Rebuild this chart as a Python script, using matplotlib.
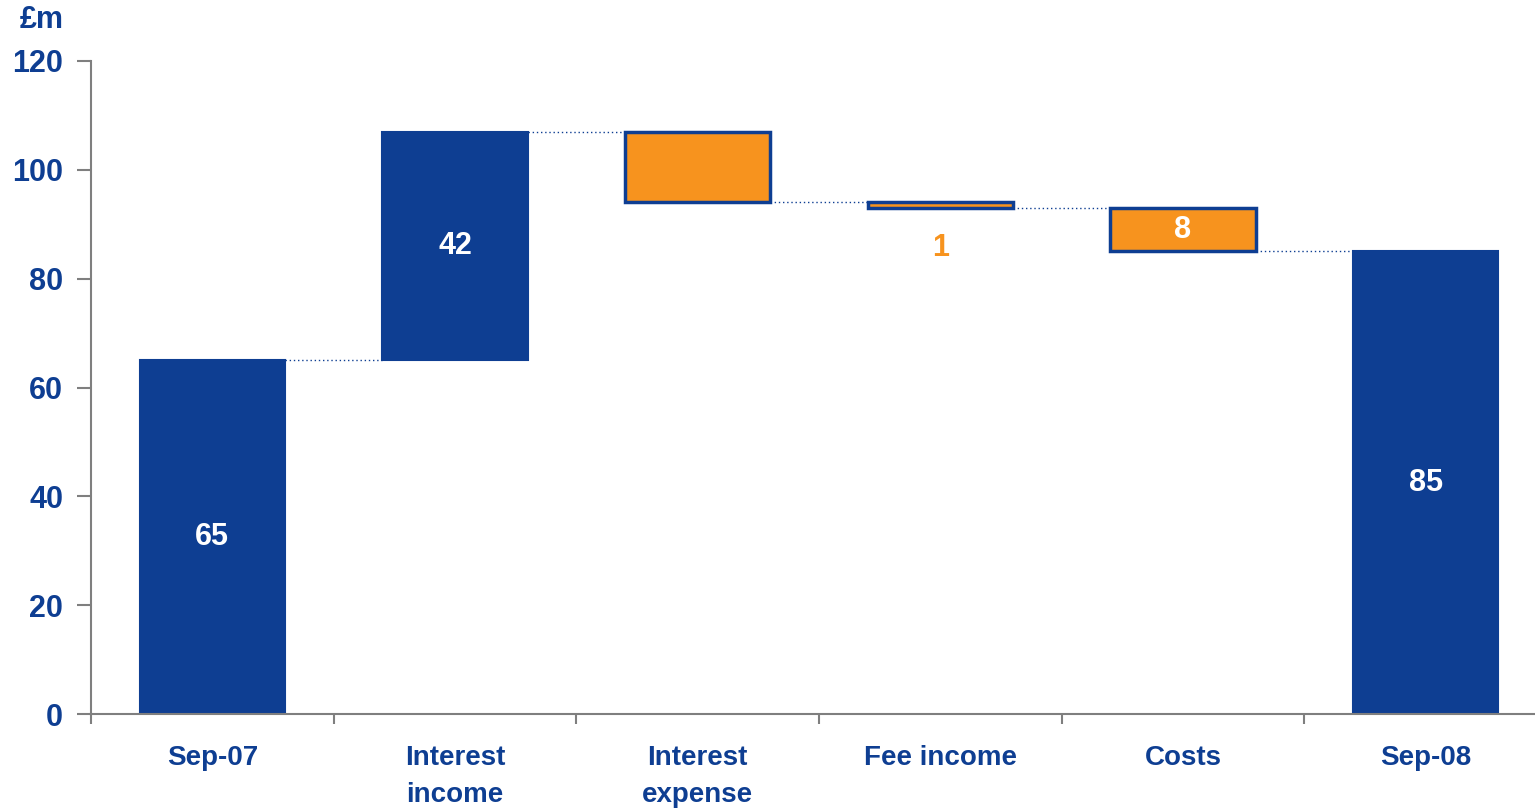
import numpy as np
import matplotlib.pyplot as plt

# waterfall: opening profit, movements, closing profit (£m)
categories = ["Sep-07", "Interest\nincome", "Interest\nexpense", "Fee income", "Costs", "Sep-08"]
values = [65, 42, -13, -1, -8, 85]
labels = ["65", "42", "", "1", "8", "85"]

blue = "#0E3E92"
orange = "#F7931E"
grey = "#7F7F7F"

plt.rcParams['font.family'] = ['Liberation Sans', 'DejaVu Sans']
plt.rcParams['font.weight'] = 'bold'

fig = plt.figure(figsize=(15.35, 8.1), dpi=100)
ax = fig.add_axes([91/1535, 96/810, 1456/1535, 653/810])

x = np.arange(len(categories))
w = 0.6

# running totals
bottoms, tops = [], []
level = 0
for i, v in enumerate(values):
    if i == 0 or i == len(values) - 1:
        b, t = 0, v
        level = v
    else:
        b, t = min(level, level + v), max(level, level + v)
        level = level + v
    bottoms.append(b)
    tops.append(t)

for i, v in enumerate(values):
    end = i == 0 or i == len(values) - 1
    if end or v > 0:
        ax.bar(x[i], tops[i] - bottoms[i], w, bottom=bottoms[i], color=blue, edgecolor=blue, lw=1.5)
    else:
        ax.bar(x[i], tops[i] - bottoms[i], w, bottom=bottoms[i], color=orange, edgecolor=blue, lw=2.5)

# dotted connectors between bars
level = 0
for i in range(len(values) - 1):
    if i == 0:
        level = values[0]
    else:
        level = level + values[i]
    ax.plot([x[i] + w/2, x[i+1] - w/2], [level, level], ls=(0, (1, 2)), color=blue, lw=1)

# value labels
for i, lab in enumerate(labels):
    if not lab:
        continue
    h = tops[i] - bottoms[i]
    if h < 3:
        ax.text(x[i], bottoms[i] - 7.3, lab, ha='center', va='center', color=orange, fontsize=22, fontweight='bold')
    else:
        ax.text(x[i], (tops[i] + bottoms[i]) / 2, lab, ha='center', va='center', color='white', fontsize=22, fontweight='bold')

ax.set_xlim(-0.5, len(categories) - 0.5)
ax.set_ylim(0, 120)
ax.set_yticks(np.arange(0, 121, 20))
ax.tick_params(axis='y', labelsize=22, labelcolor=blue, color=grey, length=10, width=1.5, pad=10, direction='out')

ax.set_xticks(np.arange(-0.5, len(categories), 1))
ax.set_xticklabels([])
ax.tick_params(axis='x', which='major', color=grey, length=7, width=1.5, direction='out')
ax.set_xticks(x, minor=True)
ax.set_xticklabels(categories, minor=True, fontsize=20, color=blue, fontweight='bold', linespacing=1.55)
ax.tick_params(axis='x', which='minor', length=0, pad=22)

for s in ['top', 'right']:
    ax.spines[s].set_visible(False)
for s in ['left', 'bottom']:
    ax.spines[s].set_color(grey)
    ax.spines[s].set_linewidth(1.5)

fig.text(42/1535, 1 - 20/810, "£m", ha='center', va='center', color=blue, fontsize=22, fontweight='bold')

fig.savefig("out.png", dpi=100)
